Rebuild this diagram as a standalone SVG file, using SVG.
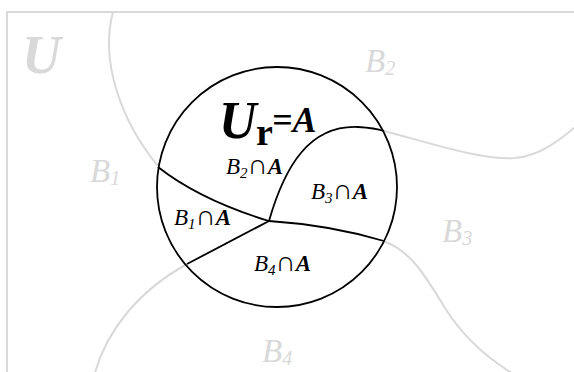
<svg xmlns="http://www.w3.org/2000/svg" width="574" height="372" viewBox="0 0 574 372">
<style>
.g{fill:none;stroke:#d9d9d9;stroke-width:2}
.k{fill:none;stroke:#000;stroke-width:1.8}
.gl{font-family:"Liberation Serif",serif;font-style:italic;font-size:33px;fill:#d9d9d9}
.sub{font-size:20px}
.il{font-family:"Liberation Serif",serif;font-style:italic;font-size:23px;fill:#000}
.isub{font-size:15px}
.b{font-weight:bold}
.cap{font-family:"Liberation Serif",serif;font-style:normal;font-weight:bold;font-size:28px}
</style>
<rect width="574" height="372" fill="#fff"/>
<g id="frame">
<path class="g" d="M7,380 V12 H580" stroke-width="2.5"/>
<text x="22" y="73" font-family="Liberation Serif,serif" font-style="italic" font-weight="bold" font-size="54" fill="#d9d9d9">U</text>
</g>
<g id="connectors">
<path class="g" d="M113,12 C100,60 120,120 158,166"/>
<path class="g" d="M384,131 C430,143 480,160 515,158 C540,156 560,140 580,123"/>
<path class="g" d="M383,241 C410,250 425,275 445,308 C465,340 490,360 515,375"/>
<path class="g" d="M187,264 C140,290 105,330 93,380"/>
<path class="k" d="M158,167 Q200,200 269,221"/>
<path class="k" d="M269,221 L187,264"/>
<path class="k" d="M269,221 Q330,225 384,241"/>
<path class="k" d="M269,221 C285,165 310,125 358,127 Q375,128 384,131"/>
</g>
<g id="B1"><text class="gl" x="90" y="182">B<tspan class="sub" dy="3">1</tspan></text></g>
<g id="B2"><text class="gl" x="365" y="72">B<tspan class="sub" dy="3">2</tspan></text></g>
<g id="B3"><text class="gl" x="442" y="242">B<tspan class="sub" dy="3">3</tspan></text></g>
<g id="B4"><text class="gl" x="262" y="362">B<tspan class="sub" dy="3">4</tspan></text></g>
<g id="A">
<circle class="k" cx="277" cy="187" r="120"/>
<text font-family="Liberation Serif,serif" fill="#000"><tspan x="219" y="138" font-size="52" font-style="italic" font-weight="bold">U</tspan><tspan x="256" y="145" font-size="38" font-weight="bold">r</tspan><tspan x="272" y="132" font-size="36" font-style="italic" font-weight="bold">=A</tspan></text>
</g>
<g id="B1A"><text class="il" x="174" y="225">B<tspan class="isub" dy="4">1</tspan><tspan class="cap" dy="-4">∩</tspan><tspan class="b">A</tspan></text></g>
<g id="B2A"><text class="il" x="226" y="174">B<tspan class="isub" dy="4">2</tspan><tspan class="cap" dy="-4">∩</tspan><tspan class="b">A</tspan></text></g>
<g id="B3A"><text class="il" x="311" y="199">B<tspan class="isub" dy="4">3</tspan><tspan class="cap" dy="-4">∩</tspan><tspan class="b">A</tspan></text></g>
<g id="B4A"><text class="il" x="254" y="271">B<tspan class="isub" dy="4">4</tspan><tspan class="cap" dy="-4">∩</tspan><tspan class="b">A</tspan></text></g>
</svg>
